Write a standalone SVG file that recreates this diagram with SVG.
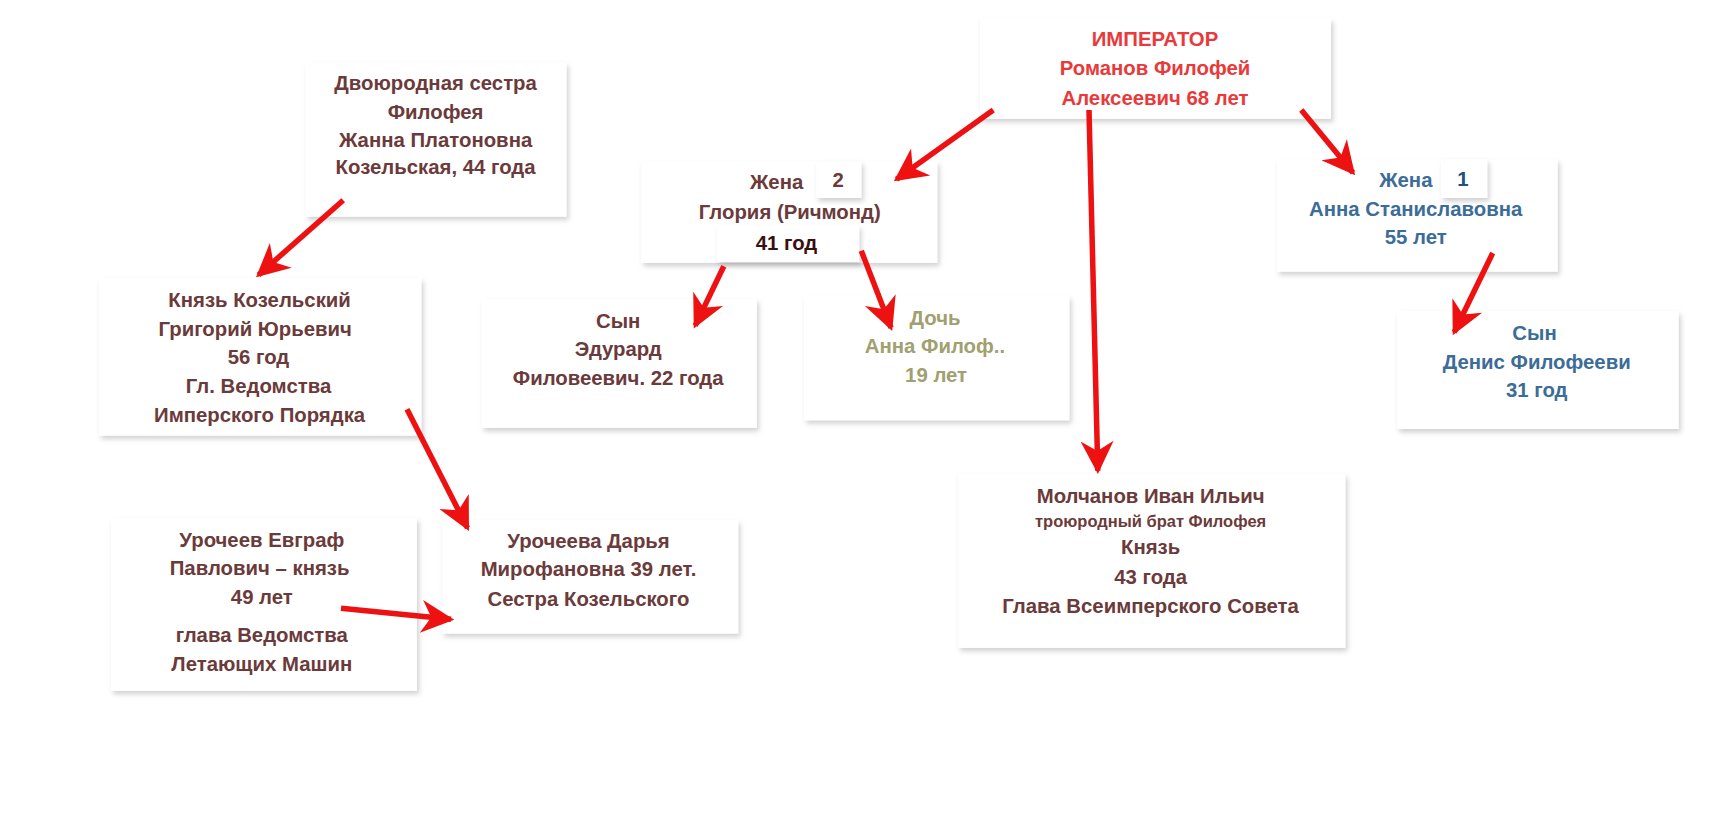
<svg xmlns="http://www.w3.org/2000/svg" width="1732" height="818" viewBox="0 0 1732 818">
<defs>
<filter id="sh" x="-10%" y="-10%" width="130%" height="130%"><feDropShadow dx="2" dy="3" stdDeviation="2.5" flood-color="#000" flood-opacity="0.18"/></filter>
<marker id="ah" viewBox="0 0 10 10" refX="9" refY="5" markerWidth="9" markerHeight="6" orient="auto" markerUnits="strokeWidth"><path d="M0,0 L10,5 L0,10 L3,5 z" fill="#ee1111"/></marker>
<style>
.b{fill:#fff;filter:url(#sh)}
.p{fill:#fff;filter:url(#sh)}
text{font-family:"Liberation Sans",Arial,sans-serif;font-weight:bold;font-size:18.5px;text-anchor:middle}
.br{fill:#6b3a3a}
.rd{fill:#e83a3a}
.bl{fill:#3c6c98}
.ol{fill:#a0a070}
.a{stroke:#ee1111;stroke-width:5;fill:none;marker-end:url(#ah)}
</style>
</defs>
<rect width="1732" height="818" fill="#fff"/>
<g transform="scale(1.1)">
<g id="emperor"><rect class="b" x="891" y="17" width="319" height="91"/>
<text class="rd" x="1050" y="42">ИМПЕРАТОР</text><text class="rd" x="1050" y="68">Романов Филофей</text><text class="rd" x="1050" y="95">Алексеевич 68 лет</text></g>
<g id="cousin"><rect class="b" x="278" y="57" width="237" height="140"/>
<text class="br" x="396" y="82">Двоюродная сестра</text><text class="br" x="396" y="108">Филофея</text><text class="br" x="396" y="134">Жанна Платоновна</text><text class="br" x="396" y="158">Козельская, 44 года</text></g>
<g id="wife2"><rect class="b" x="583" y="147" width="269" height="92"/>
<text class="br" x="706" y="172">Жена</text><rect class="p" x="742" y="147" width="41" height="33"/><text class="br" x="762" y="170">2</text>
<text class="br" x="718" y="199">Глория (Ричмонд)</text><rect class="p" x="652" y="205" width="129" height="33"/><text x="715" y="227" fill="#3a1010">41 год</text></g>
<g id="wife1"><rect class="b" x="1161" y="145" width="255" height="102"/>
<text class="bl" x="1278" y="170">Жена</text><rect class="p" x="1310" y="145" width="42" height="35"/><text x="1330" y="169" fill="#24507a">1</text>
<text class="bl" x="1287" y="196">Анна Станиславовна</text><text class="bl" x="1287" y="222">55 лет</text></g>
<g id="prince"><rect class="b" x="90" y="253" width="293" height="143"/>
<text class="br" x="236" y="279">Князь Козельский</text><text class="br" x="232" y="305">Григорий Юрьевич</text><text class="br" x="235" y="331">56 год</text><text class="br" x="235" y="357">Гл. Ведомства</text><text class="br" x="236" y="384">Имперского Порядка</text></g>
<g id="son1"><rect class="b" x="438" y="272" width="250" height="117"/>
<text class="br" x="562" y="298">Сын</text><text class="br" x="562" y="324">Эдурард</text><text class="br" x="562" y="350">Филовеевич. 22 года</text></g>
<g id="daughter"><rect class="b" x="731" y="269" width="241" height="113"/>
<text class="ol" x="850" y="295">Дочь</text><text class="ol" x="850" y="321">Анна Филоф..</text><text class="ol" x="851" y="347">19 лет</text></g>
<g id="son2"><rect class="b" x="1270" y="283" width="256" height="107"/>
<text class="bl" x="1395" y="309">Сын</text><text class="bl" x="1397" y="335">Денис Филофееви</text><text class="bl" x="1397" y="361">31 год</text></g>
<g id="molchanov"><rect class="b" x="871" y="431" width="352" height="158"/>
<text class="br" x="1046" y="457">Молчанов Иван Ильич</text><text class="br" x="1046" y="479" style="font-size:15px">троюродный брат Филофея</text><text class="br" x="1046" y="504">Князь</text><text class="br" x="1046" y="531">43 года</text><text class="br" x="1046" y="557">Глава Всеимперского Совета</text></g>
<g id="urocheev"><rect class="b" x="101" y="471" width="278" height="157"/>
<text class="br" x="238" y="497">Урочеев Евграф</text><text class="br" x="236" y="523">Павлович – князь</text><text class="br" x="238" y="549">49 лет</text><text class="br" x="238" y="584">глава Ведомства</text><text class="br" x="238" y="610">Летающих Машин</text></g>
<g id="urocheeva"><rect class="b" x="402" y="473" width="269" height="103"/>
<text class="br" x="535" y="498">Урочеева Дарья</text><text class="br" x="535" y="524">Мирофановна 39 лет.</text><text class="br" x="535" y="551">Сестра Козельского</text></g>
<g id="connectors">
<line class="a" x1="903" y1="100" x2="815" y2="163"/>
<line class="a" x1="1183" y1="100" x2="1230" y2="157"/>
<line class="a" x1="990" y1="100" x2="998" y2="428"/>
<line class="a" x1="312" y1="182" x2="235" y2="250"/>
<line class="a" x1="658" y1="242" x2="632" y2="296"/>
<line class="a" x1="783" y1="228" x2="810" y2="298"/>
<line class="a" x1="1357" y1="230" x2="1322" y2="302"/>
<line class="a" x1="370" y1="372" x2="425" y2="480"/>
<line class="a" x1="310" y1="553" x2="410" y2="563"/>
</g>
</g>
</svg>
